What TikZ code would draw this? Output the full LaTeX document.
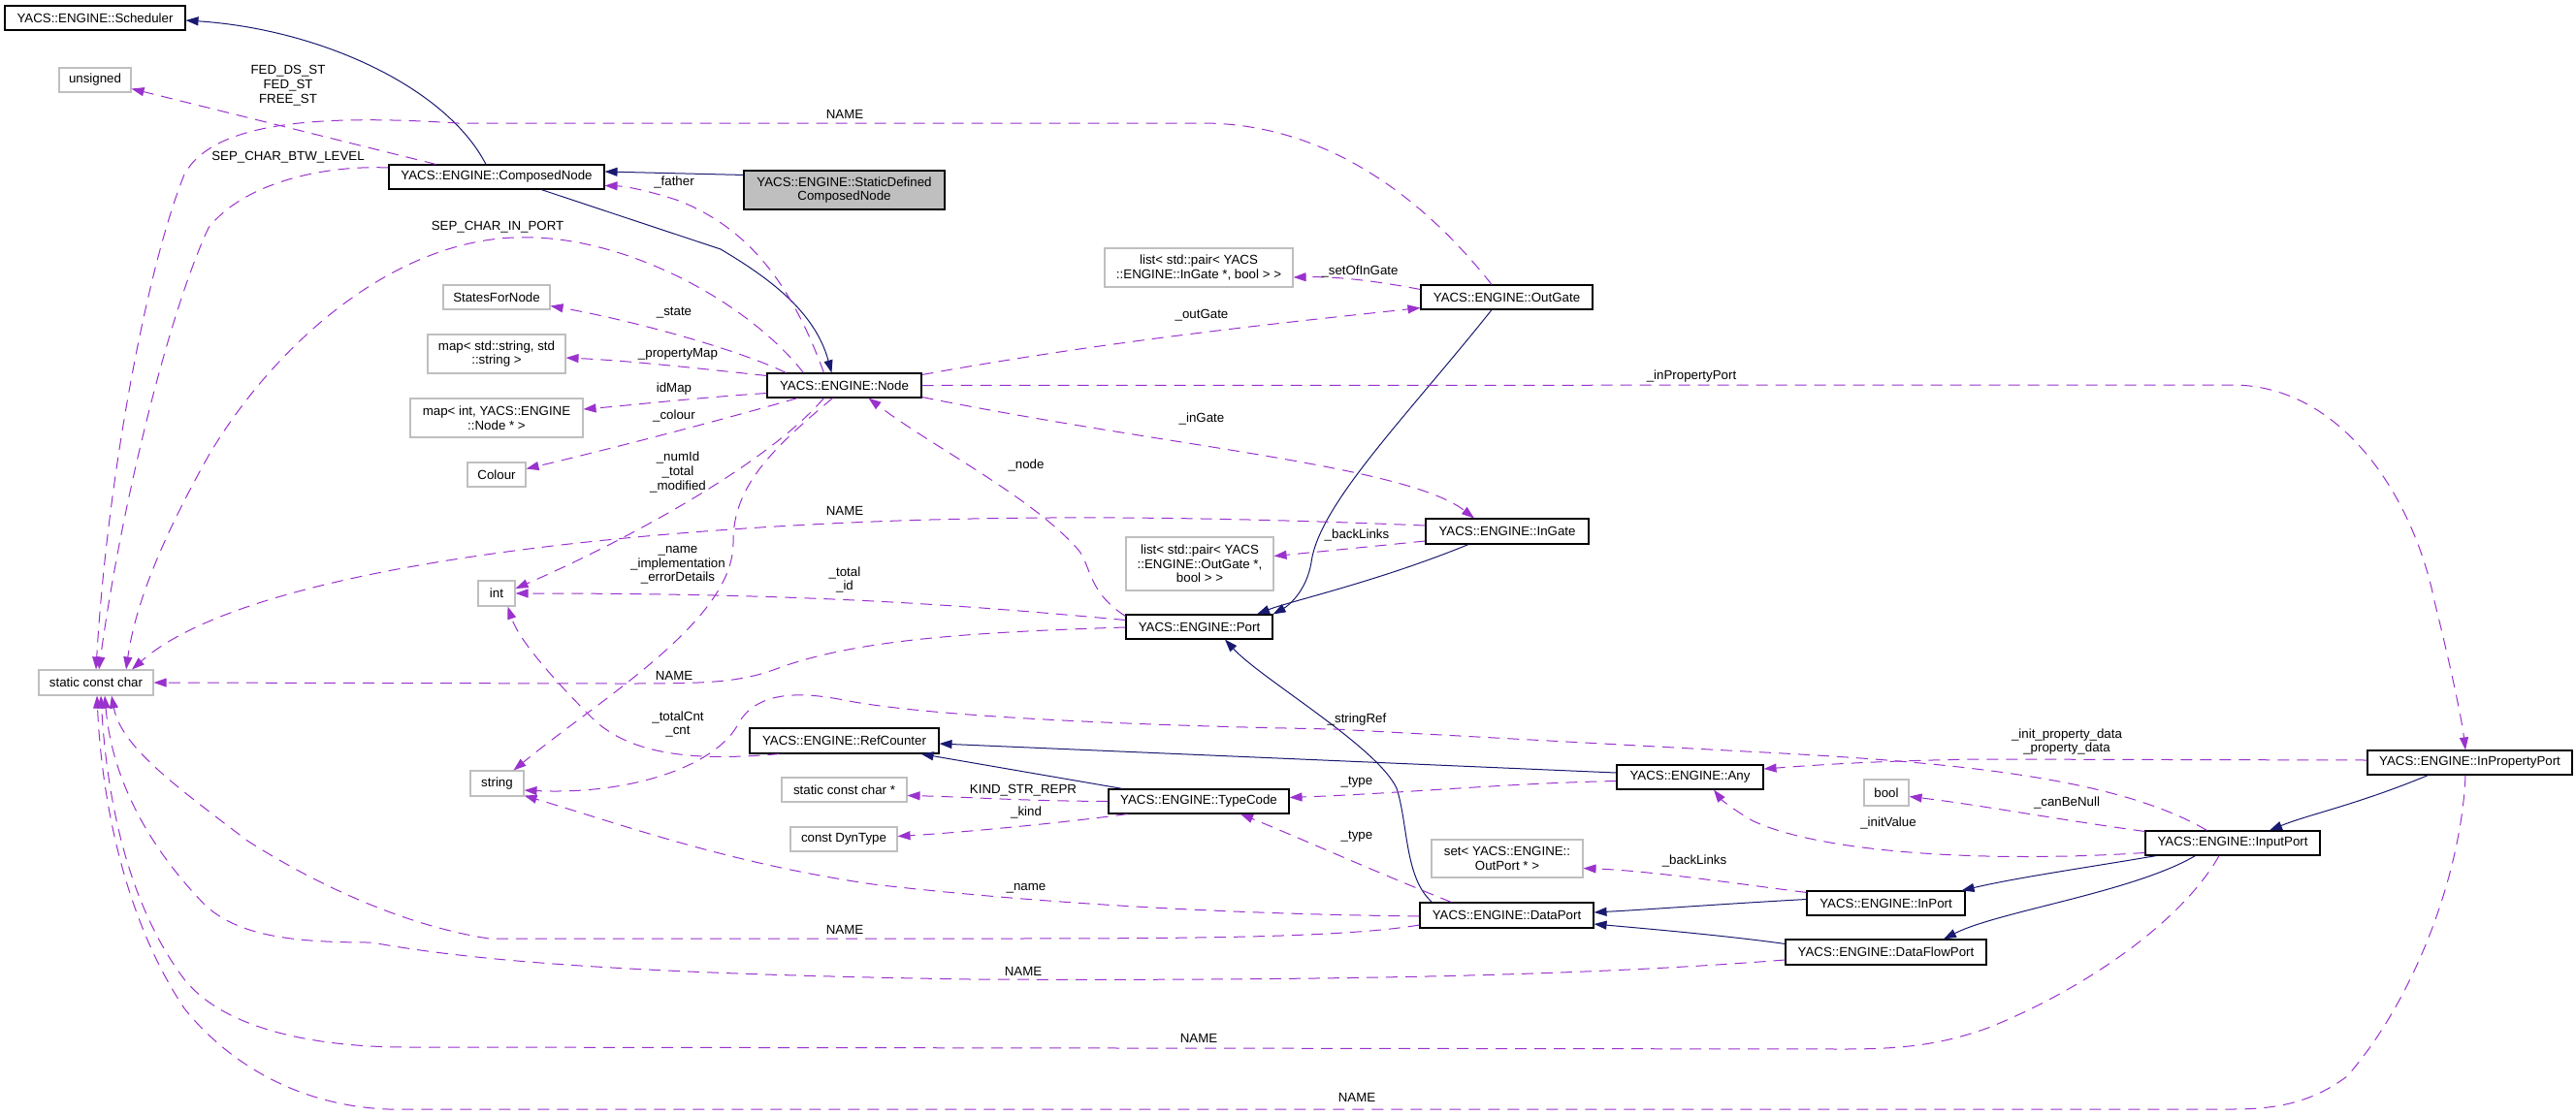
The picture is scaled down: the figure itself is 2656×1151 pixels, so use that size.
\documentclass[tikz,border=0pt]{standalone}
\usepackage{fontspec}
\setmainfont{Liberation Sans}
\usetikzlibrary{arrows.meta,calc}
\definecolor{inhc}{HTML}{191970}
\definecolor{usec}{HTML}{9A32CD}
\definecolor{grayb}{HTML}{BFBFBF}
\begin{document}
\begin{tikzpicture}[x=1pt,y=-1pt,font=\fontsize{13.3}{14.7}\selectfont,
  cls/.style={draw=black, line width=1.1pt, fill=white, inner sep=0pt, align=center},
  ext/.style={cls, draw=grayb},
  inh/.style={draw=inhc, line width=1pt, -{Triangle[length=13pt,width=9pt]}},
  use/.style={draw=usec, line width=1pt, dash pattern=on 12pt off 8pt, -{Triangle[length=13pt,width=9pt]}},
  lbl/.style={align=center, inner sep=0pt}]
\useasboundingbox (0,0) rectangle (2656,1151);
% nodes
\node[cls, minimum width=186pt, minimum height=25pt] (sched) at (98,18.5) {YACS::ENGINE::Scheduler};
\node[ext, minimum width=74pt, minimum height=25pt] (unsig) at (98,82.5) {unsigned};
\node[cls, minimum width=222pt, minimum height=25pt] (cn) at (512,182.5) {YACS::ENGINE::ComposedNode};
\node[cls, fill=grayb, minimum width=207pt, minimum height=40pt] (sdcn) at (870.5,196) {YACS::ENGINE::StaticDefined\\ComposedNode};
\node[ext, minimum width=110pt, minimum height=25pt] (states) at (512,306.5) {StatesForNode};
\node[ext, minimum width=142pt, minimum height=40pt] (mapstr) at (512,365) {map< std::string, std\\::string >};
\node[cls, minimum width=159pt, minimum height=25pt] (nd) at (870.5,397.5) {YACS::ENGINE::Node};
\node[ext, minimum width=178pt, minimum height=40pt] (mapint) at (512,431) {map< int, YACS::ENGINE\\::Node * >};
\node[ext, minimum width=60pt, minimum height=25pt] (colour) at (512,489.5) {Colour};
\node[ext, minimum width=38pt, minimum height=26pt] (int) at (512,612) {int};
\node[ext, minimum width=118pt, minimum height=26pt] (scc) at (99,704) {static const char};
\node[cls, minimum width=195pt, minimum height=26pt] (refc) at (870.5,764) {YACS::ENGINE::RefCounter};
\node[ext, minimum width=55pt, minimum height=26pt] (str) at (512.5,808) {string};
\node[ext, minimum width=129pt, minimum height=25pt] (sccp) at (870.5,814.5) {static const char *};
\node[ext, minimum width=110pt, minimum height=25pt] (dyn) at (870,865.5) {const DynType};
\node[ext, minimum width=194pt, minimum height=40pt] (listin) at (1236,276) {list< std::pair< YACS\\::ENGINE::InGate *, bool > >};
\node[cls, minimum width=177pt, minimum height=25pt] (outg) at (1553.5,306.5) {YACS::ENGINE::OutGate};
\node[cls, minimum width=168pt, minimum height=26pt] (ing) at (1554,548) {YACS::ENGINE::InGate};
\node[ext, minimum width=152pt, minimum height=55pt] (listout) at (1237,581.5) {list< std::pair< YACS\\::ENGINE::OutGate *,\\bool > >};
\node[cls, minimum width=151pt, minimum height=25pt] (port) at (1236.5,646.5) {YACS::ENGINE::Port};
\node[cls, minimum width=151pt, minimum height=25pt] (any) at (1742.5,801.5) {YACS::ENGINE::Any};
\node[cls, minimum width=186pt, minimum height=25pt] (tc) at (1236,826.5) {YACS::ENGINE::TypeCode};
\node[ext, minimum width=156pt, minimum height=39pt] (setout) at (1554,885.5) {set< YACS::ENGINE::\\OutPort * >};
\node[cls, minimum width=179pt, minimum height=26pt] (dp) at (1553.5,944) {YACS::ENGINE::DataPort};
\node[cls, minimum width=211pt, minimum height=25pt] (inprop) at (2546.5,786.5) {YACS::ENGINE::InPropertyPort};
\node[ext, minimum width=46pt, minimum height=27pt] (bool) at (1945,817.5) {bool};
\node[cls, minimum width=180pt, minimum height=25pt] (inp) at (2302,869.5) {YACS::ENGINE::InputPort};
\node[cls, minimum width=163pt, minimum height=25pt] (inport) at (1944.5,931.5) {YACS::ENGINE::InPort};
\node[cls, minimum width=207pt, minimum height=26pt] (dfp) at (1944.5,982) {YACS::ENGINE::DataFlowPort};
% inheritance
\draw[inh] ($(cn.north)+(-11,0)$) .. controls (460,90) and (330,30) .. ($(sched.east)+(0,2.5)$);
\draw[inh] ($(cn.south)+(46,0)$) -- (743,257) .. controls (790,285) and (840,320) .. ($(nd.north west)+(67,0)$);
\draw[inh] ($(sdcn.north west)+(0,5)$) -- ($(cn.east)+(0,-5.5)$);
\draw[inh] ($(outg.south)+(-15.5,0)$) .. controls (1450,430) and (1360,520) .. (1352,580) .. controls (1347,610) and (1328,625) .. (port.north east);
\draw[inh] ($(ing.south)+(-40,0)$) .. controls (1420,600) and (1330,620) .. ($(port.north)+(59.5,0)$);
\draw[inh] ($(dp.north west)+(13,0)$) .. controls (1448,905) and (1452,850) .. (1440,813) .. controls (1420,770) and (1300,700) .. ($(port.south)+(26.5,0)$);
\draw[inh] ($(any.west)+(0,-4.5)$) -- ($(refc.east)+(0,3)$);
\draw[inh] ($(tc.north west)+(15,0)$) -- ($(refc.south east)+(-19,0)$);
\draw[inh] ($(inport.west)+(0,-4)$) .. controls (1780,932) and (1700,938) .. ($(dp.east)+(0,-3)$);
\draw[inh] ($(dfp.north west)+(0,5)$) .. controls (1780,965) and (1700,958) .. ($(dp.east)+(0,9)$);
\draw[inh] ($(inp.south west)+(12,0)$) .. controls (2150,895) and (2080,905) .. ($(inport.north east)+(-4,0)$);
\draw[inh] ($(inp.south west)+(52,0)$) .. controls (2200,920) and (2060,940) .. ($(dfp.north)+(59.5,0)$);
\draw[inh] ($(inprop.south west)+(63,0)$) .. controls (2430,830) and (2380,840) .. ($(inp.north)+(38,0)$);
% usage
\draw[use] ($(cn.north west)+(49,0)$) -- ($(unsig.east)+(0,9)$);
\node[lbl] (l1) at (297,88) {FED\_DS\_ST\\FED\_ST\\FREE\_ST};
\draw[use] ($(cn.west)+(0,-9.5)$) .. controls (330,170) and (250,190) .. (215,235) .. controls (175,320) and (125,520) .. ($(scc.north)+(3,0)$);
\node[lbl] (l2) at (297,162) {SEP\_CHAR\_BTW\_LEVEL};
\draw[use] ($(nd.north west)+(59,0)$) .. controls (815,290) and (770,235) .. (700,207) .. controls (670,197) and (645,192) .. ($(cn.east)+(0,9)$);
\node[lbl] (l3) at (695,188) {\_father};
\draw[use] ($(outg.north)+(-15.5,0)$) .. controls (1480,220) and (1380,127) .. (1239,127) -- (472,127) .. controls (330,118) and (220,125) .. (190,180) .. controls (150,280) and (110,500) .. (scc.north);
\node[lbl] (l4) at (871,118) {NAME};
\draw[use] ($(nd.north west)+(38,0)$) .. controls (770,310) and (640,240) .. (530,245) .. controls (400,250) and (280,360) .. (215,470) .. controls (170,550) and (140,620) .. ($(scc.north)+(31,0)$);
\node[lbl] (l5) at (513,234) {SEP\_CHAR\_IN\_PORT};
\draw[use] ($(outg.west)+(0,-8)$) .. controls (1420,290) and (1380,285) .. ($(listin.east)+(0,10)$);
\node[lbl] (l6) at (1402,280) {\_setOfInGate};
\draw[use] ($(nd.east)+(0,-11)$) .. controls (1150,350) and (1350,330) .. ($(outg.west)+(0,11)$);
\node[lbl] (l7) at (1239,325) {\_outGate};
\draw[use] (nd.east) -- (2305,397) .. controls (2420,400) and (2490,520) .. (2510,620) .. controls (2525,680) and (2538,740) .. ($(inprop.north)+(-4.5,0)$);
\node[lbl] (l8) at (1744,388) {\_inPropertyPort};
\draw[use] ($(nd.north west)+(20,0)$) .. controls (760,360) and (650,330) .. ($(states.east)+(0,9)$);
\node[lbl] (l9) at (695,323) {\_state};
\draw[use] ($(nd.west)+(0,-10)$) .. controls (720,380) and (650,372) .. ($(mapstr.east)+(0,4)$);
\node[lbl] (l10) at (699,365) {\_propertyMap};
\draw[use] ($(nd.west)+(0,8)$) .. controls (720,410) and (650,418) .. ($(mapint.east)+(0,-9)$);
\node[lbl] (l11) at (695,401) {idMap};
\draw[use] ($(nd.south west)+(32,0)$) .. controls (720,440) and (600,470) .. ($(colour.east)+(0,-6)$);
\node[lbl] (l12) at (695,429) {\_colour};
\draw[use] ($(nd.south)+(-21,0)$) .. controls (790,480) and (640,560) .. ($(int.east)+(0,-5)$);
\node[lbl] (l13) at (699,487) {\_numId\\\_total\\\_modified};
\draw[use] ($(nd.south)+(-12,0)$) .. controls (800,460) and (755,500) .. (756,560) .. controls (756,640) and (620,720) .. ($(str.north)+(17,0)$);
\node[lbl] (l14) at (699,583) {\_name\\\_implementation\\\_errorDetails};
\draw[use] ($(nd.east)+(0,12)$) .. controls (1200,460) and (1450,480) .. ($(ing.north)+(-34,0)$);
\node[lbl] (l15) at (1239,432) {\_inGate};
\draw[use] ($(port.north west)+(0,2)$) .. controls (1120,610) and (1125,580) .. (1110,565) .. controls (1060,510) and (960,460) .. ($(nd.south west)+(105,0)$);
\node[lbl] (l16) at (1058,480) {\_node};
\draw[use] ($(ing.west)+(0,-6)$) .. controls (1300,535) and (1100,530) .. (900,538) .. controls (600,550) and (250,590) .. ($(scc.north)+(37,0)$);
\node[lbl] (l17) at (871,527) {NAME};
\draw[use] ($(ing.west)+(0,10)$) .. controls (1400,565) and (1350,570) .. ($(listout.east)+(0,-8)$);
\node[lbl] (l18) at (1399,552) {\_backLinks};
\draw[use] ($(port.west)+(0,-7)$) .. controls (1000,625) and (850,612) .. (int.east);
\node[lbl] (l19) at (871,598) {\_total\\\_id};
\draw[use] ($(port.west)+(0,0.5)$) .. controls (1000,652) and (880,660) .. (800,690) .. controls (760,705) and (720,705) .. (638,705) -- (scc.east);
\node[lbl] (l20) at (695,697) {NAME};
\draw[use] ($(refc.south west)+(31,0)$) .. controls (720,785) and (650,780) .. (610,740) .. controls (570,700) and (535,660) .. ($(int.south east)+(-8,0)$);
\node[lbl] (l21) at (699,747) {\_totalCnt\\\_cnt};
\draw[use] ($(inp.north west)+(64,0)$) .. controls (2180,800) and (2000,785) .. (1800,775) -- (1376,752) .. controls (1150,748) and (950,738) .. (870,722) .. controls (820,712) and (780,715) .. (762,745) .. controls (740,790) and (650,820) .. ($(str.east)+(0,7)$);
\node[lbl] (l22) at (1399,742) {\_stringRef};
\draw[use] ($(inprop.west)+(0,-2.5)$) -- (2039,783) .. controls (1920,785) and (1860,790) .. ($(any.east)+(0,-8.5)$);
\node[lbl] (l23) at (2131,765) {\_init\_property\_data\\\_property\_data};
\draw[use] (tc.west) .. controls (1050,826) and (1000,822) .. ($(sccp.east)+(0,6)$);
\node[lbl] (l24) at (1055,815) {KIND\_STR\_REPR};
\draw[use] ($(tc.south west)+(20,0)$) .. controls (1100,848) and (1000,858) .. ($(dyn.east)+(0,-3)$);
\node[lbl] (l25) at (1058,838) {\_kind};
\draw[use] ($(any.west)+(0,4)$) .. controls (1550,808) and (1450,818) .. ($(tc.east)+(0,-4)$);
\node[lbl] (l26) at (1399,807) {\_type};
\draw[use] ($(dp.north west)+(33,0)$) .. controls (1420,900) and (1330,860) .. ($(tc.south)+(43,0)$);
\node[lbl] (l27) at (1399,863) {\_type};
\draw[use] ($(inport.north west)+(0,2)$) .. controls (1780,910) and (1700,898) .. ($(setout.east)+(0,10)$);
\node[lbl] (l28) at (1747,888) {\_backLinks};
\draw[use] ($(inp.west)+(0,10)$) .. controls (2050,890) and (1880,880) .. (1808,847) .. controls (1790,837) and (1775,825) .. ($(any.south)+(24.5,0)$);
\node[lbl] (l29) at (1947,849) {\_initValue};
\draw[use] ($(inp.west)+(0,-12)$) .. controls (2120,845) and (2040,830) .. ($(bool.east)+(0,4)$);
\node[lbl] (l30) at (2131,828) {\_canBeNull};
\draw[use] ($(dp.west)+(0,1)$) .. controls (1300,943) and (1100,935) .. (900,912) .. controls (750,890) and (640,850) .. ($(str.south east)+(0,-1)$);
\node[lbl] (l31) at (1058,916) {\_name};
\draw[use] ($(dp.west)+(0,10)$) .. controls (1380,968) and (1200,968) .. (1000,968) -- (504,968) .. controls (420,955) and (330,915) .. (255,867) .. controls (180,810) and (125,770) .. ($(scc.south)+(16,0)$);
\node[lbl] (l32) at (871,959) {NAME};
\draw[use] ($(dfp.west)+(0,8)$) .. controls (1650,1005) and (1400,1012) .. (1000,1010) .. controls (700,1005) and (510,995) .. (383,972) .. controls (300,972) and (245,965) .. (211,933) .. controls (150,870) and (115,800) .. ($(scc.south)+(9,0)$);
\node[lbl] (l33) at (1055,1002) {NAME};
\draw[use] ($(inp.south)+(-14,0)$) .. controls (2250,950) and (2150,1020) .. (2050,1060) .. controls (2000,1078) and (1960,1082) .. (1900,1082) -- (420,1080) .. controls (320,1080) and (230,1060) .. (190,1010) .. controls (130,930) and (110,820) .. ($(scc.south)+(5,0)$);
\node[lbl] (l34) at (1236,1071) {NAME};
\draw[use] ($(inprop.south)+(-4.5,0)$) .. controls (2538,900) and (2490,1030) .. (2420,1110) .. controls (2380,1140) and (2340,1144) .. (2300,1144) -- (400,1144) .. controls (300,1140) and (230,1090) .. (190,1040) .. controls (130,950) and (105,830) .. ($(scc.south)+(1,0)$);
\node[lbl] (l35) at (1399,1132) {NAME};
\end{tikzpicture}
\end{document}
